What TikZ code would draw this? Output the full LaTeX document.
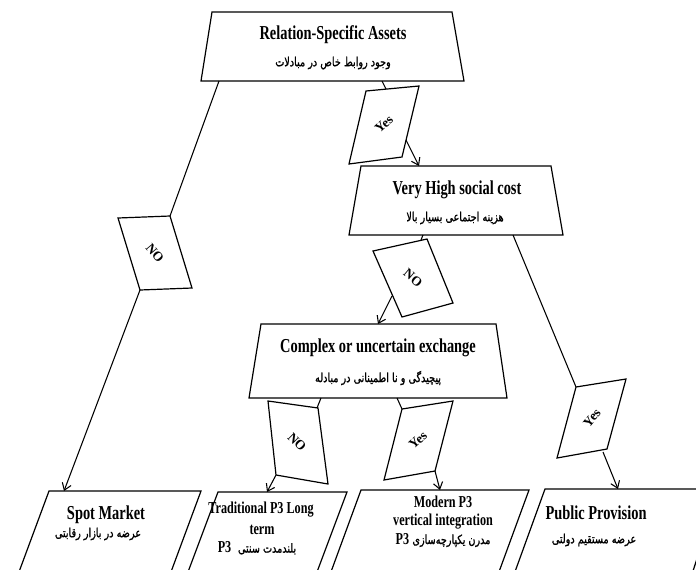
\documentclass[tikz,border=0pt]{standalone}
\usepackage{fontspec}
\setmainfont{Liberation Serif}
\TeXXeTstate=1
\newfontfamily\en[FakeStretch=0.73]{Liberation Serif}
\newfontfamily\fa[Script=Arabic,FakeStretch=0.77,FakeBold=1.2]{DejaVu Sans}
\usetikzlibrary{arrows.meta}
\begin{document}
\begin{tikzpicture}[x=0.75pt,y=-0.75pt, line width=0.8pt,
  box/.style={draw, line width=0.9pt},
  ttl/.style={font=\en\bfseries\fontsize{14.8}{16}\selectfont, inner sep=0},
  ttls/.style={font=\en\bfseries\fontsize{12.5}{14}\selectfont, inner sep=0},
  sub/.style={font=\fa\fontsize{9.4}{11}\selectfont, inner sep=0},
  lbl/.style={font=\bfseries\fontsize{10}{12}\selectfont, inner sep=0},
  arr/.style={-{Straight Barb[length=5pt,width=7pt]}}]
\useasboundingbox (0,0) rectangle (696,569);
\clip (0,0) rectangle (696,569);

% ---- main decision shapes (trapezia) ----
\draw[box] (212,12) -- (452,12) -- (464,81) -- (201,81) -- cycle;
\node[ttl] (rsa) at (333,35) {Relation-Specific Assets};
\node[sub] (rsafa) at (333,63) {\beginR وجود روابط خاص در  مبادلات\endR};

\draw[box] (361,166) -- (551,166) -- (563,235) -- (349,235) -- cycle;
\node[ttl] (vh) at (457,190) {Very High social cost};
\node[sub] (vhfa) at (455,218) {\beginR هزینه اجتماعی بسیار بالا\endR};

\draw[box] (261,324) -- (496,324) -- (507,398) -- (249,398) -- cycle;
\node[ttl] (cx) at (378,348) {Complex or uncertain exchange};
\node[sub] (cxfa) at (378,378) {\beginR پیچیدگی و نا اطمینانی در مبادله\endR};

% ---- outcome shapes (parallelograms, cut by the lower edge) ----
\draw[box] (49,491) -- (201,491) -- (168,580) -- (16,580) -- cycle;
\node[ttl] (spot) at (106,515) {Spot Market};
\node[sub] (spotfa) at (98,534) {\beginR عرضه در بازار رقابتی\endR};

\draw[box] (218,492) -- (347,492) -- (314,580) -- (185,580) -- cycle;
\node[ttls] (tr1) at (261,510) {Traditional P3 Long};
\node[ttls] (tr2) at (262,530) {term};
\node[inner sep=0] (tr3) at (257,548) {{\en\bfseries\fontsize{12.5}{14}\selectfont P3}\ \ {\fa\fontsize{9.4}{11}\selectfont\beginR بلندمدت سنتی\endR}};

\draw[box] (361,490) -- (529,490) -- (496,580) -- (328,580) -- cycle;
\node[ttls] (mo1) at (443,502) {Modern P3};
\node[ttls] (mo2) at (443,522) {vertical integration};
\node[inner sep=0] (mo3) at (443,540) {{\en\bfseries\fontsize{12.5}{14}\selectfont P3}\ {\fa\fontsize{9.4}{11}\selectfont\beginR مدرن یکپارچه‌سازی\endR}};

\draw[box] (545,489) -- (720,489) -- (690,580) -- (512,580) -- cycle;
\node[ttl] (pub) at (596,513) {Public Provision};
\node[sub] (pubfa) at (594,540) {\beginR عرضه مستقیم دولتی\endR};

% ---- label boxes ----
\draw[box] (118,218) -- (170,216) -- (192,288) -- (140,290) -- cycle;
\node[lbl, rotate=-50] (n1) at (155,253) {NO};

\draw[box] (366,91) -- (419,86) -- (402,157) -- (349,164) -- cycle;
\node[lbl, rotate=42] (y1) at (384,124) {Yes};

\draw[box] (373,251) -- (427,239) -- (453,303) -- (402,317) -- cycle;
\node[lbl, rotate=-40] (n2) at (413,278) {NO};

\draw[box] (268,401) -- (318,408) -- (328,484) -- (276,475) -- cycle;
\node[lbl, rotate=-45] (n3) at (297,442) {NO};

\draw[box] (402,409) -- (453,401) -- (435,471) -- (384,480) -- cycle;
\node[lbl, rotate=42] (y3) at (418,440) {Yes};

\draw[box] (576,387) -- (626,379) -- (607,449) -- (557,458) -- cycle;
\node[lbl, rotate=50] (y4) at (592,418) {Yes};

% ---- connection points ----
\coordinate (rsaL) at (219,81);
\coordinate (rsaR) at (382,81);
\coordinate (n1in) at (170,216);
\coordinate (n1out) at (140,290);
\coordinate (spotin) at (64,491);
\coordinate (y1in) at (386,89);
\coordinate (y1out) at (406,140);
\coordinate (vhin) at (419,166);
\coordinate (vhL) at (423,235);
\coordinate (vhR) at (513,235);
\coordinate (n2in) at (421,240);
\coordinate (n2out) at (392,296);
\coordinate (cxin) at (378,324);
\coordinate (cxL) at (321,398);
\coordinate (cxR) at (397,398);
\coordinate (n3in) at (317,408);
\coordinate (n3out) at (276,475);
\coordinate (trin) at (267,492);
\coordinate (y3in) at (402,409);
\coordinate (y3out) at (435,471);
\coordinate (moin) at (440,490);
\coordinate (y4in) at (576,387);
\coordinate (y4out) at (603,452);
\coordinate (pubin) at (618,489);

% ---- connectors ----
\draw (rsaL) -- (n1in);
\draw[arr] (n1out) -- (spotin);
\draw (rsaR) -- (y1in);
\draw[arr] (y1out) -- (vhin);
\draw (vhL) -- (n2in);
\draw[arr] (n2out) -- (cxin);
\draw (cxL) -- (n3in);
\draw[arr] (n3out) -- (trin);
\draw (cxR) -- (y3in);
\draw[arr] (y3out) -- (moin);
\draw (vhR) -- (y4in);
\draw[arr] (y4out) -- (pubin);
\end{tikzpicture}
\end{document}
